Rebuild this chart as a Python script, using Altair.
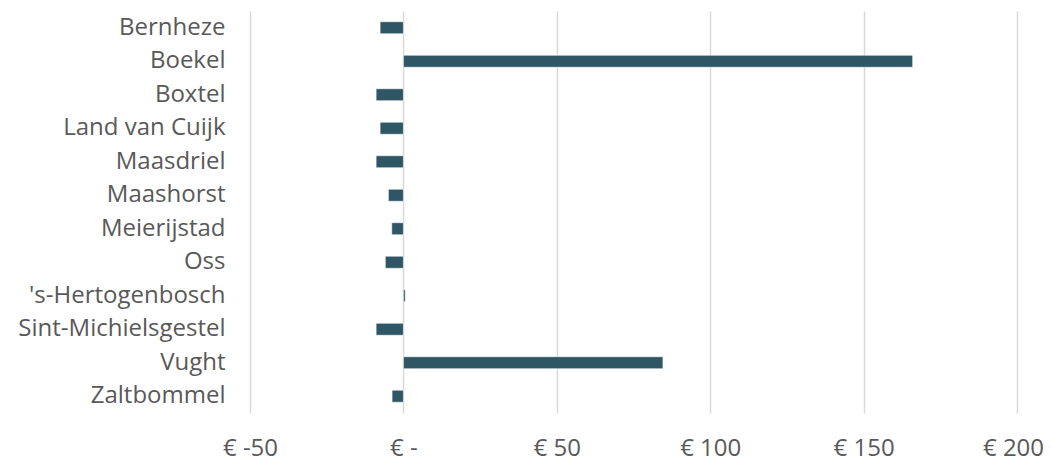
import altair as alt
import pandas as pd

gemeenten = ["Bernheze", "Boekel", "Boxtel", "Land van Cuijk", "Maasdriel", "Maashorst",
             "Meierijstad", "Oss", "'s-Hertogenbosch", "Sint-Michielsgestel", "Vught", "Zaltbommel"]
waarden = [-7.6, 166.0, -8.9, -7.6, -8.9, -4.9, -3.8, -5.9, 0.6, -8.9, 84.6, -3.7]
x_ticks = [-50, 0, 50, 100, 150, 200]

df = pd.DataFrame({"gemeente": gemeenten, "waarde": waarden})

FONT = "Open Sans"
GRAY = "#595959"

bars = alt.Chart(df).mark_bar(color="#2f5665", stroke="#ffffff", strokeWidth=0.6).encode(
    x=alt.X("waarde:Q",
            scale=alt.Scale(domain=[-50, 200], nice=False, zero=False),
            axis=alt.Axis(values=x_ticks, title=None, domain=False, ticks=False,
                          labelExpr="datum.value == 0 ? '€ -' : '€ ' + datum.value",
                          labelFont=FONT, labelFontSize=24, labelColor=GRAY, labelPadding=23,
                          labelFlush=False, labelOverlap=False, labelLimit=300,
                          labelOffset={"condition": {"test": "datum.value == 200", "value": -4}, "value": 0},
                          grid=True, gridColor="#d9d9d9", gridWidth=1.5)),
    y=alt.Y("gemeente:N", sort=gemeenten,
            scale=alt.Scale(paddingInner=0.64, paddingOuter=0.32),
            axis=alt.Axis(title=None, domain=False, ticks=False, grid=False, labelLimit=400,
                          labelFont=FONT, labelFontSize=24, labelColor=GRAY, labelPadding=25)),
)

chart = bars.properties(
    width=767, height=402,
    autosize=alt.AutoSizeParams(type="none"),
    padding={"left": 242, "top": 3, "right": 26, "bottom": 52},
    background="#ffffff",
).configure_view(stroke=None)

chart.save("out.html", embed_options={"renderer": "svg", "actions": False})
